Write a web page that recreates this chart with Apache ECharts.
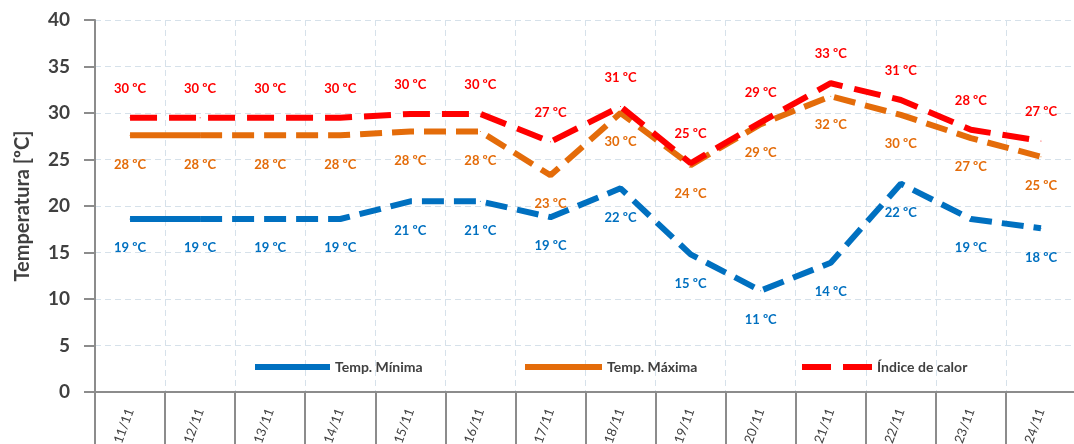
<!DOCTYPE html>
<html>
<head>
<meta charset="utf-8">
<style>
  html, body { margin: 0; padding: 0; background: #fff; }
  #chart { width: 1074px; height: 444px; }
</style>
<script src="https://cdn.jsdelivr.net/npm/echarts@6/dist/echarts.min.js"></script>
</head>
<body>
<div id="chart"></div>
<script>
// categories (days)
const days = ['11/11', '12/11', '13/11', '14/11', '15/11', '16/11', '17/11',
  '18/11', '19/11', '20/11', '21/11', '22/11', '23/11', '24/11']

// series values (ºC)
const tempMin = [18.6, 18.6, 18.6, 18.6, 20.5, 20.5, 18.8, 21.9, 14.8, 10.9, 13.9, 22.4, 18.6, 17.6]
const tempMax = [27.6, 27.6, 27.6, 27.6, 28.0, 28.0, 23.3, 30.0, 24.4, 28.8, 31.8, 29.8, 27.3, 25.3]
const heatIndex = [29.5, 29.5, 29.5, 29.5, 29.9, 29.9, 26.9, 30.7, 24.6, 29.0, 33.2, 31.4, 28.2, 27.0]

// y ticks
const yTicks = [0, 5, 10, 15, 20, 25, 30, 35, 40]

const FONT = 'Lato, "Open Sans", sans-serif'
const BLUE = '#0070c0'
const ORANGE = '#e46c0a'
const RED = '#ff0000'
const GRID = '#d6e1ea'
const AXIS = '#8c8c8c'

// first segment of min/max is drawn solid, the rest dashed
function head(arr) {
  return arr.map((v, i) => (i <= 1 ? v : null))
}
function tail(arr) {
  return arr.map((v, i) => (i >= 1 ? v : null))
}

function labelCfg(color, position, onlyFirst) {
  return {
    show: true,
    position: position,
    distance: 22,
    color: color,
    fontFamily: FONT,
    fontSize: 13,
    fontWeight: 'bold',
    formatter: p => {
      if (onlyFirst && p.dataIndex > 0) return ''
      return Math.round(p.value) + ' ºC'
    }
  }
}

function lineSeries(name, data, color, width, dash, position, onlyFirst, z) {
  return {
    name: name,
    type: 'line',
    data: data,
    symbol: 'circle',
    symbolSize: 1,
    itemStyle: { color: color },
    lineStyle: { color: color, width: width, type: dash, cap: 'butt' },
    label: labelCfg(color, position, onlyFirst),
    connectNulls: false,
    animation: false,
    z: z
  }
}

function legendCfg(left, name, color, width, icon) {
  return {
    left: left,
    top: 355,
    itemWidth: width,
    itemHeight: 6,
    itemGap: 0,
    selectedMode: false,
    textStyle: { fontFamily: FONT, fontSize: 14, fontWeight: 'bold', color: '#404040' },
    data: [{ name: name, icon: icon, itemStyle: { color: color } }]
  }
}

const chart = echarts.init(document.getElementById('chart'))

chart.setOption({
  backgroundColor: '#fff',
  animation: false,
  grid: { left: 95, top: 20, width: 981, bottom: 52, containLabel: false, outerBoundsMode: 'none' },
  legend: [
    legendCfg(250, 'Temp. Mínima', BLUE, 75, 'rect'),
    legendCfg(520, 'Temp. Máxima', ORANGE, 77, 'rect'),
    legendCfg(797, 'Índice de calor', RED, 70, 'path://M0,0H29V6H0Z M41,0H70V6H41Z')
  ],
  xAxis: {
    type: 'category',
    data: days,
    boundaryGap: true,
    axisLine: { lineStyle: { color: AXIS, width: 2 } },
    axisTick: { show: true, length: 60, lineStyle: { color: AXIS, width: 2 } },
    splitLine: { show: true, lineStyle: { color: GRID, type: [6, 4], width: 1 } },
    axisLabel: {
      rotate: 70,
      margin: 17,
      fontFamily: FONT,
      fontSize: 13,
      color: '#404040'
    }
  },
  yAxis: {
    type: 'value',
    min: yTicks[0],
    max: yTicks[yTicks.length - 1],
    interval: yTicks[1] - yTicks[0],
    name: 'Temperatura [ºC]',
    nameLocation: 'middle',
    nameGap: 62,
    nameTextStyle: { fontFamily: FONT, fontSize: 20, fontWeight: 'bold', color: '#404040' },
    axisLine: { show: true, lineStyle: { color: AXIS, width: 2 } },
    axisTick: { show: true, length: 11, lineStyle: { color: AXIS, width: 2 } },
    splitLine: { show: true, lineStyle: { color: GRID, type: [6, 4], width: 1 } },
    axisLabel: {
      margin: 25,
      fontFamily: FONT,
      fontSize: 19,
      fontWeight: 'bold',
      color: '#404040'
    }
  },
  series: [
    lineSeries('Temp. Mínima', head(tempMin), BLUE, 6, 'solid', 'bottom', true, 2),
    lineSeries('Mínima (tramo)', tail(tempMin), BLUE, 6, [22, 10], 'bottom', false, 2),
    lineSeries('Temp. Máxima', head(tempMax), ORANGE, 6, 'solid', 'bottom', true, 3),
    lineSeries('Máxima (tramo)', tail(tempMax), ORANGE, 6, [22, 10], 'bottom', false, 3),
    lineSeries('Índice de calor', heatIndex, RED, 6, [27, 12], 'top', false, 4)
  ]
})
</script>
</body>
</html>
